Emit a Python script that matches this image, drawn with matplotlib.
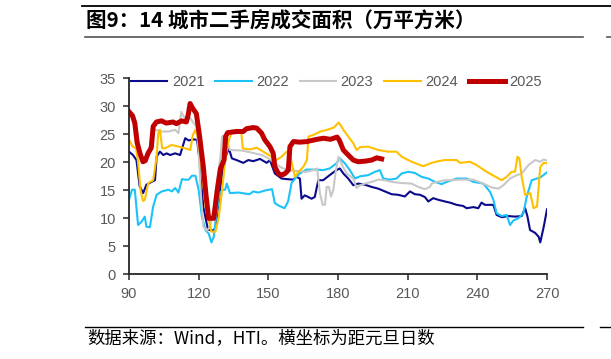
import numpy as np
import matplotlib
matplotlib.use("Agg")
import matplotlib.pyplot as plt
from matplotlib.lines import Line2D

# days since Jan 1 and area (10k m2)
d21 = [90, 91.7, 93.2, 94.6, 96.1, 97.5, 99.7, 101.2, 101.9, 103.3, 104.8, 106.2, 107.7, 109.9, 112,
       114.2, 115.7, 117.8, 119.3, 120.5, 122, 124, 126, 127.2, 128.7, 130.1, 131.6, 133, 134.3, 136.3,
       139.2, 141.4, 143.5, 146.4, 149.3, 150.7, 152.8, 155.7, 157.9, 160.7, 162.1, 163.6, 164.3, 165.7,
       167.2, 168.6, 170, 171.5, 173.6, 176.4, 179.3, 180.8, 182.3, 184.4, 186.6, 188.7, 191.6, 194.5,
       197.3, 200.2, 203.1, 205.9, 208.8, 211, 213.1, 215.3, 217.4, 218.9, 221, 223.2, 226.1, 228.2,
       231.1, 233.9, 235.4, 238.3, 240.4, 241.8, 243.3, 246.9, 248.3, 250.5, 253.3, 256.2, 259.1, 260.6,
       261.6, 262.7, 264.9, 266.4, 267.1, 268.6, 270]
v21 = [21.9, 21.3, 20.4, 15.7, 14.5, 16.0, 16.5, 16.8, 21.0, 21.9, 21.3, 21.6, 21.3, 21.6, 21.3,
       24.3, 23.9, 24.1, 24.0, 20.0, 12.0, 8.0, 7.8, 8.2, 13.3, 18.0, 21.0, 22.5, 20.7, 20.4,
       19.9, 20.4, 20.2, 20.6, 19.9, 20.4, 18.0, 17.1, 17.0, 16.9, 17.4, 17.1, 13.5, 14.1,
       13.8, 13.5, 13.8, 16.8, 16.8, 17.7, 18.6, 18.9, 18.0, 17.1, 15.9, 16.2, 16.0, 15.6,
       15.3, 14.8, 14.3, 14.2, 13.9, 14.8, 14.3, 14.2, 13.8, 13.0, 13.6, 13.3, 13.0, 12.8,
       12.4, 12.2, 11.8, 12.0, 11.8, 12.8, 12.4, 12.4, 10.6, 10.2, 10.4, 10.3, 10.4, 11.8,
       10.3, 7.9, 7.4, 6.7, 5.7, 8.5, 11.6]

d22 = [90, 91.3, 92.5, 93.9, 95.4, 96.8, 97.5, 99, 100.4, 101.9, 104.1, 107, 108.4, 109.9, 111.3,
       112.8, 114.2, 115.7, 117.1, 118.6, 120, 121.4, 122.9, 124.3, 125.5, 126.5, 127.5, 129, 130.4,
       131.4, 132.1, 133.5, 137.1, 141.9, 143.5, 145.7, 148.9, 151.6, 152.8, 154.8, 157, 158.5, 160,
       161.5, 163.2, 166.4, 170.7, 173.6, 176.4, 179.3, 180.8, 183, 185.1, 187.3, 189.5, 193, 195.9,
       198, 199.5, 202.4, 205.2, 207.4, 210.2, 213.1, 216, 218.9, 221.8, 224.6, 226.8, 231.1, 235.4,
       238.3, 242.6, 245.5, 246.9, 248.3, 250.5, 252.6, 254.1, 255.5, 257.7, 259.8, 261.3, 263.4,
       267.1, 270]
v22 = [13.3, 15.1, 15.1, 8.8, 9.4, 10.3, 8.5, 8.4, 12.1, 14.2, 14.8, 15.1, 14.8, 15.4, 14.6,
       17.0, 16.9, 16.9, 17.6, 17.6, 15.1, 10.3, 7.9, 7.3, 5.7, 6.7, 10.3, 14.5, 15.1,
       15.1, 16.2, 14.5, 14.6, 14.3, 14.8, 14.6, 15.0, 15.2, 12.7, 12.2, 11.8, 13.0, 16.3,
       17.1, 17.9, 18.7, 18.7, 18.6, 18.9, 19.8, 20.7, 19.8, 18.6, 17.1, 17.5, 17.7, 18.3,
       18.6, 17.1, 16.9, 17.1, 18.0, 18.3, 18.1, 17.4, 17.1, 16.5, 16.1, 16.5, 17.1, 17.1,
       16.5, 16.2, 14.7, 13.3, 10.9, 10.4, 10.6, 8.8, 9.6, 10.0, 10.9, 13.9, 16.8,
       17.3, 18.2]

d23 = [90, 91.6, 92.5, 94, 95.5, 96.5, 98, 99, 99.7, 101.2, 104.1, 107, 109.9, 111.3, 112.5, 113.5,
       114.9, 116.4, 117.8, 119, 120, 121, 122, 123.5, 125, 126.5, 128, 129.4, 130.1, 131.6, 133.4,
       138.7, 143, 147.3, 150.1, 153, 155.9, 158.8, 163.1, 166.4, 169.3, 171, 172.2, 173.4, 174.4,
       175.1, 176.1, 177, 178, 179.1, 180.2, 181.8, 183.7, 186.6, 188, 189.5, 191.6, 194.5, 197.3,
       200.2, 203.1, 207.4, 211.7, 214.6, 217.4, 219.6, 220.3, 222.5, 226.1, 228.2, 232.5, 238.3,
       242.6, 246.2, 249.1, 251.2, 254.1, 257, 259.1, 262, 264.9, 267.1, 268.6, 270]
v23 = [29.5, 28.8, 28.0, 24.0, 21.0, 20.2, 21.0, 23.0, 25.2, 25.8, 25.5, 25.5, 25.8, 25.2, 29.0, 28.2,
       27.6, 27.9, 27.0, 26.5, 22.0, 14.0, 8.5, 7.8, 8.5, 12.0, 17.0, 21.0, 24.6, 24.9, 22.2,
       22.1, 21.7, 21.3, 20.7, 19.7, 19.0, 18.6, 18.4, 18.3, 18.6, 18.9, 14.5, 12.4, 12.4,
       15.6, 15.6, 13.9, 15.1, 18.6, 21.0, 19.5, 18.0, 17.1, 15.4, 15.9, 16.2, 16.5, 16.9,
       16.8, 16.5, 16.3, 16.2, 15.6, 15.2, 15.6, 16.2, 16.5, 16.8, 16.8, 16.9, 16.9,
       16.2, 15.5, 15.3, 15.9, 17.1, 17.7, 18.0, 19.5, 20.4, 20.1, 20.5, 20.3]

d24 = [90, 91.6, 93, 93.8, 95, 96, 96.8, 98.3, 100.4, 101.9, 102.6, 103.3, 104.3, 105.5, 108.4, 111.3,
       114.2, 116.4, 117.5, 118.6, 120, 121.5, 123, 125.5, 127.2, 128.7, 130.1, 131.6, 133, 134.5,
       136.5, 138.3, 139, 142, 145, 147.8, 151.4, 153.5, 155.7, 157.9, 159.3, 160.8, 161.5, 163,
       165.1, 166.6, 167.3, 169.5, 172.4, 175.3, 178.2, 180.3, 181.8, 182.3, 184.4, 186.6, 188, 189.5,
       193, 197.3, 201.6, 205.2, 207.4, 211.7, 216.7, 220.3, 223.2, 226, 231.1, 232.5, 236.8, 239.7,
       244, 248.3, 250.5, 252.6, 254.8, 256.2, 257.3, 258.1, 259.1, 260.6, 262.8, 264.2, 265.7,
       267.1, 268.6, 270]
v24 = [24.0, 22.8, 22.5, 20.4, 15.0, 13.1, 13.3, 16.3, 16.8, 21.0, 25.2, 25.8, 22.5, 22.5, 23.1, 22.8,
       22.5, 22.2, 24.9, 25.8, 24.0, 18.0, 12.0, 7.6, 7.6, 10.3, 15.1, 21.0, 24.0, 25.5,
       25.8, 25.6, 22.5, 22.3, 22.6, 21.9, 21.0, 20.4, 21.0, 21.9, 21.3, 18.6, 17.4, 18.3,
       19.2, 20.4, 24.6, 24.9, 25.5, 25.8, 26.2, 27.1, 26.2, 25.8, 24.6, 23.4, 22.2, 22.7,
       22.8, 22.2, 21.9, 21.9, 21.0, 20.1, 19.3, 19.9, 20.2, 20.4, 20.4, 19.9, 20.1, 19.5,
       18.3, 17.3, 16.8, 17.4, 18.3, 18.3, 21.0, 20.7, 17.4, 14.2, 14.5, 11.8, 12.1,
       19.2, 19.9, 19.8]

d25 = [90, 91.5, 92.5, 93.5, 94.8, 96, 97, 98.2, 99.6, 100.4, 101.8, 104, 106, 109, 110.4, 112.6,
       114.7, 115.5, 116.3, 117.5, 119, 120.4, 122, 123.2, 124.3, 126.5, 128, 129.4, 130.9, 131.6,
       132.5, 136.3, 139.2, 140.6, 143.5, 145, 147.1, 148.5, 150.7, 152.1, 152.8, 154.3, 155.7, 157.2,
       158.6, 159.3, 160.8, 163.7, 166.6, 170.9, 173.8, 176.7, 179.6, 180.5, 182.3, 184.4, 186.6,
       188.7, 191.6, 194.5, 196.7, 198.8]
v25 = [29.0, 28.3, 27.0, 23.5, 21.5, 20.1, 20.3, 21.6, 22.6, 26.4, 27.2, 27.4, 27.0, 27.2, 26.9, 27.4,
       27.2, 28.5, 30.5, 29.6, 28.7, 24.6, 19.2, 14.0, 10.0, 10.0, 15.0, 18.9, 20.4, 24.6,
       25.3, 25.5, 25.5, 26.0, 26.2, 26.1, 25.2, 24.0, 22.8, 21.6, 19.2, 18.0, 17.7, 18.0,
       18.6, 22.8, 23.7, 23.6, 23.7, 24.1, 24.3, 24.1, 24.5, 24.0, 22.2, 21.3, 20.4,
       20.1, 20.2, 20.4, 20.8, 20.6]

years = ["2021", "2022", "2023", "2024", "2025"]
colors = ["#0A0A8C", "#1CC3FA", "#C8C8C8", "#FFC000", "#C00000"]

W, H = 611, 359
fig = plt.figure(figsize=(W / 100, H / 100), dpi=100)
ax = fig.add_axes([129 / W, 1 - 274.3 / H, 418 / W, 196 / H])

series = [(d21, v21), (d22, v22), (d23, v23), (d24, v24), (d25, v25)]
for (d, v), yr, c in zip(series, years, colors):
    lw = 3.6 if yr == "2025" else 1.5
    ax.plot(d, v, color=c, lw=lw, label=yr, solid_joinstyle="round")

ax.set_xlim(90, 270)
ax.set_ylim(0, 35)
ax.set_xticks(np.arange(90, 271, 30))
ax.set_yticks(np.arange(0, 36, 5))
for s in ["top", "right"]:
    ax.spines[s].set_visible(False)
for s in ["left", "bottom"]:
    ax.spines[s].set_color("#262626")
    ax.spines[s].set_linewidth(1.3)
ax.tick_params(direction="out", length=4.5, width=1.1, color="#262626",
               labelsize=10.5, labelcolor="#595959", pad=5)
for lab in ax.get_xticklabels() + ax.get_yticklabels():
    lab.set_family("Liberation Sans")

leg = fig.legend(loc="center left", bbox_to_anchor=(131 / W, 1 - 82 / H), ncol=5,
                 frameon=False, handlelength=2.5, handletextpad=0.3, columnspacing=0.75,
                 borderpad=0, borderaxespad=0,
                 prop={"family": "Liberation Sans", "size": 10.5})
for t in leg.get_texts():
    t.set_color("#595959")

# header / footer rules
fig.add_artist(Line2D([82 / W, 1], [1 - 6 / H, 1 - 6 / H], color="black", lw=1.3))
fig.add_artist(Line2D([85 / W, 583 / W], [1 - 37 / H, 1 - 37 / H], color="#555555", lw=1.2))
fig.add_artist(Line2D([607 / W, 1], [1 - 37 / H, 1 - 37 / H], color="#555555", lw=1.2))
fig.add_artist(Line2D([85 / W, 583 / W], [1 - 327 / H, 1 - 327 / H], color="black", lw=1.0))
fig.add_artist(Line2D([600 / W, 1], [1 - 327 / H, 1 - 327 / H], color="black", lw=1.0))

fig.text(86 / W, 1 - 21 / H, "图9：14 城市二手房成交面积（万平方米）", fontsize=14.8,
         fontweight="bold", family=["Noto Sans CJK SC", "DejaVu Sans"], va="center", ha="left")
fig.text(87 / W, 1 - 338 / H, "数据来源：Wind，HTI。横坐标为距元旦日数", fontsize=12.5,
         family=["Noto Sans CJK SC", "DejaVu Sans"], va="center", ha="left")

fig.savefig("out.png", dpi=100)
